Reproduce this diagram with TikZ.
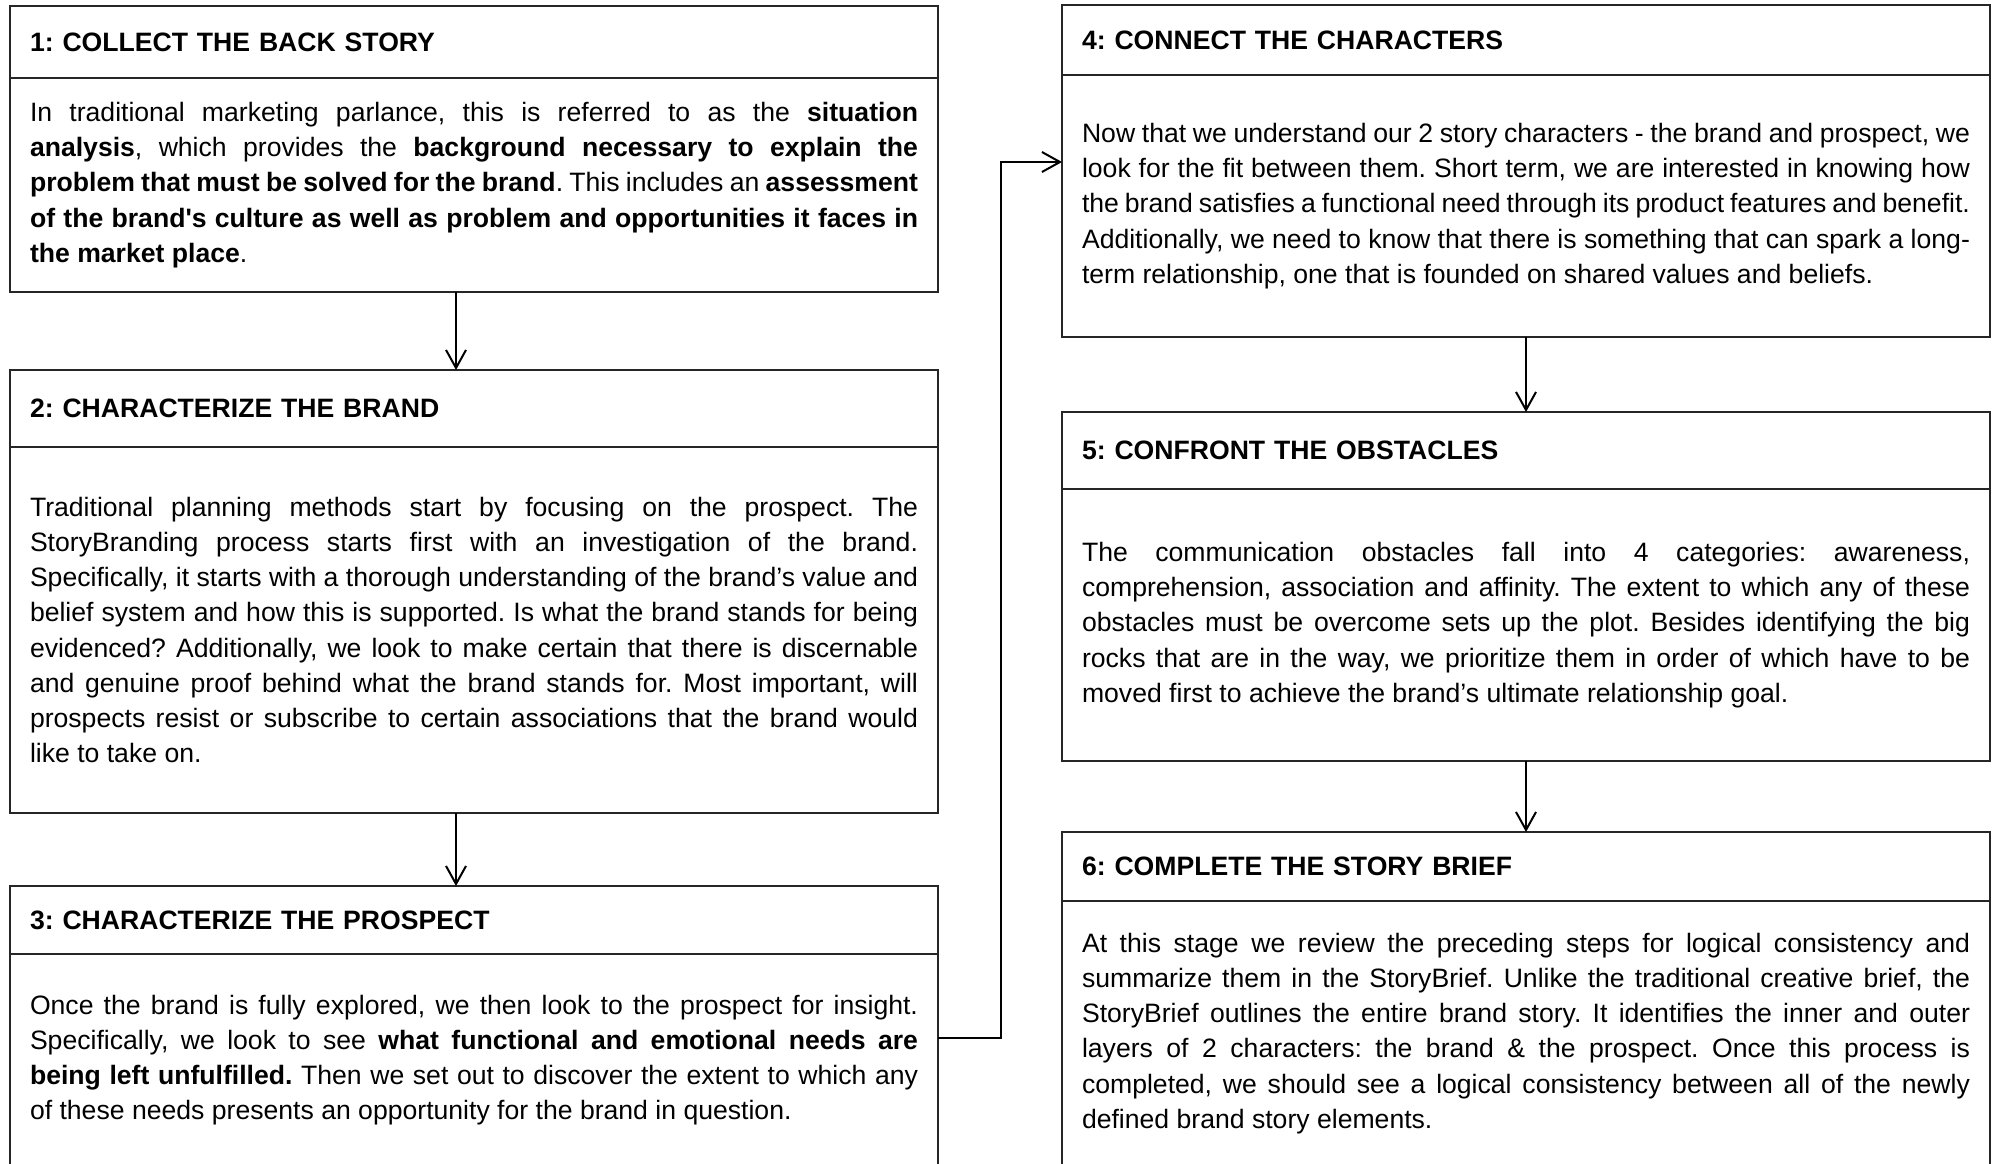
\documentclass[tikz,border=0pt]{standalone}
\usepackage{fontspec}
\setmainfont{Liberation Sans}
\usetikzlibrary{arrows.meta}
\tolerance=10000
\hyphenpenalty=10000
\frenchspacing
\begin{document}
\begin{tikzpicture}[x=0.5pt,y=-0.5pt,
  txt/.style={font=\fontsize{13.3pt}{17.6pt}\selectfont},
  box/.style={draw=black!85, line width=0.7pt, rectangle, outer sep=0pt,
    inner xsep=10pt, inner ysep=0pt, minimum width=464pt, text width=444pt,
    anchor=north west, txt},
  hdr/.style={box, align=left, font=\fontsize{13.3pt}{17.6pt}\selectfont\bfseries},
  bdy/.style={box, align=justify},
  conn/.style={line width=1pt, -{Straight Barb[length=9pt,width=10pt]}}]

\useasboundingbox (0,0) rectangle (1995,1163);
\clip (0,0) rectangle (1995,1163);

% left column
\node[hdr, minimum height=36pt] (h1) at (10,6) {\frenchspacing 1: COLLECT THE BACK STORY};
\node[bdy, minimum height=107pt] (b1) at (10,78) {\noindent\frenchspacing
In traditional marketing parlance, this is referred to as the \textbf{situation}\linebreak
\textbf{analysis}, which provides the \textbf{background necessary to explain the}\linebreak
\textbf{problem that must be solved for the brand}. This includes an \textbf{assessment}\linebreak
\textbf{of the brand\textquotesingle s culture as well as problem and opportunities it faces in}\linebreak
\textbf{the market place}.};

\node[hdr, minimum height=38.5pt] (h2) at (10,370) {\frenchspacing 2: CHARACTERIZE THE BRAND};
\node[bdy, minimum height=183pt] (b2) at (10,447) {\noindent\frenchspacing
Traditional planning methods start by focusing on the prospect. The\linebreak
StoryBranding process starts first with an investigation of the brand.\linebreak
Specifically, it starts with a thorough understanding of the brand’s value and\linebreak
belief system and how this is supported. Is what the brand stands for being\linebreak
evidenced? Additionally, we look to make certain that there is discernable\linebreak
and genuine proof behind what the brand stands for. Most important, will\linebreak
prospects resist or subscribe to certain associations that the brand would\linebreak
like to take on.};

\node[hdr, minimum height=34pt] (h3) at (10,886) {\frenchspacing 3: CHARACTERIZE THE PROSPECT};
\node[bdy, minimum height=106pt] (b3) at (10,954) {\noindent\frenchspacing
Once the brand is fully explored, we then look to the prospect for insight.\linebreak
Specifically, we look to see \textbf{what functional and emotional needs are}\linebreak
\textbf{being left unfulfilled.} Then we set out to discover the extent to which any\linebreak
of these needs presents an opportunity for the brand in question.};

% right column
\node[hdr, minimum height=35pt] (h4) at (1062,5) {\frenchspacing 4: CONNECT THE CHARACTERS};
\node[bdy, minimum height=131pt] (b4) at (1062,75) {\noindent\frenchspacing
Now that we understand our 2 story characters - the brand and prospect, we\linebreak
look for the fit between them. Short term, we are interested in knowing how\linebreak
the brand satisfies a functional need through its product features and benefit.\linebreak
Additionally, we need to know that there is something that can spark a long-\linebreak
term relationship, one that is founded on shared values and beliefs.};

\node[hdr, minimum height=38.5pt] (h5) at (1062,412) {\frenchspacing 5: CONFRONT THE OBSTACLES};
\node[bdy, minimum height=136pt] (b5) at (1062,489) {\noindent\frenchspacing
The communication obstacles fall into 4 categories: awareness,\linebreak
comprehension, association and affinity. The extent to which any of these\linebreak
obstacles must be overcome sets up the plot. Besides identifying the big\linebreak
rocks that are in the way, we prioritize them in order of which have to be\linebreak
moved first to achieve the brand’s ultimate relationship goal.};

\node[hdr, minimum height=34.5pt] (h6) at (1062,832) {\frenchspacing 6: COMPLETE THE STORY BRIEF};
\node[bdy, minimum height=132.5pt] (b6) at (1062,901) {\noindent\frenchspacing
At this stage we review the preceding steps for logical consistency and\linebreak
summarize them in the StoryBrief. Unlike the traditional creative brief, the\linebreak
StoryBrief outlines the entire brand story. It identifies the inner and outer\linebreak
layers of 2 characters: the brand \& the prospect. Once this process is\linebreak
completed, we should see a logical consistency between all of the newly\linebreak
defined brand story elements.};

% connectors
\draw[conn] ([xshift=-9pt]b1.south) -- ([xshift=-9pt]h2.north);
\draw[conn] ([xshift=-9pt]b2.south) -- ([xshift=-9pt]h3.north);
\coordinate (bend) at (1001,162);
\draw[conn] ([yshift=11pt]b3.east) -| (bend) -- ([yshift=22pt]b4.west);
\draw[conn] (b4.south) -- (h5.north);
\draw[conn] (b5.south) -- (h6.north);
\end{tikzpicture}
\end{document}
